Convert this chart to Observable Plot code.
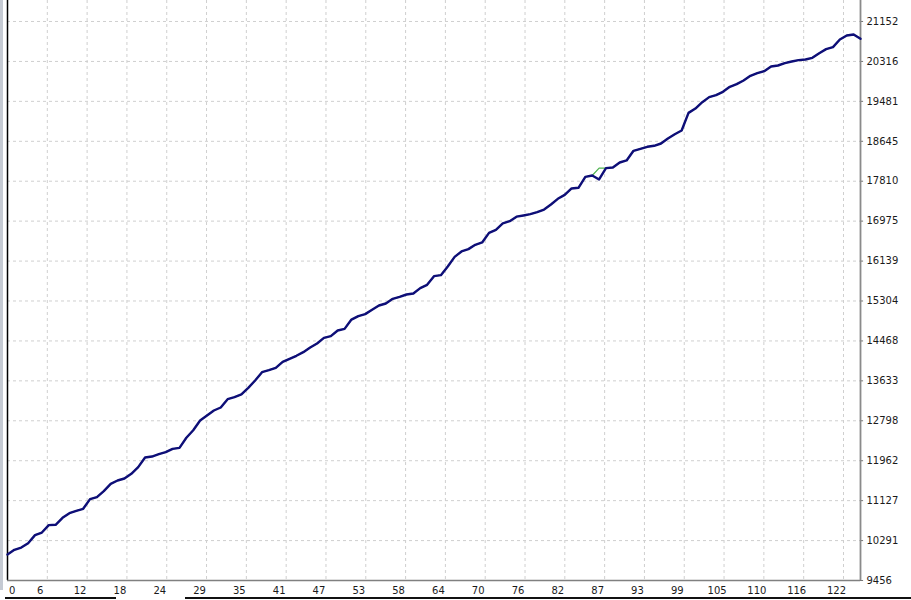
<!DOCTYPE html>
<html><head><meta charset="utf-8">
<script src="https://cdn.jsdelivr.net/npm/d3@7"></script>
<script src="https://cdn.jsdelivr.net/npm/@observablehq/plot@0.6"></script>
<style>
html,body{margin:0;padding:0;background:#fff;width:911px;height:600px;overflow:hidden;}
#wrap{position:relative;width:911px;height:600px;}
#chart svg{display:block;}
.lstrip{position:absolute;left:0;top:0;width:3px;height:590px;background:#c5cad3;}
.tab{position:absolute;height:2px;background:#111;top:597px;}
</style></head><body>
<div id="wrap"><div id="chart"></div><div class="lstrip"></div><div class="tab" style="left:5px;width:111px"></div><div class="tab" style="left:185px;width:726px"></div></div>
<script>
// Equity per trade (blue) and balance per trade (green)
const equity = [10000,10098,10146,10237,10405,10460,10614,10621,10767,10865,
  10914,10956,11158,11200,11325,11478,11548,11590,11688,11827,
  12029,12050,12099,12141,12211,12232,12442,12601,12804,12908,
  13013,13076,13250,13292,13348,13487,13641,13815,13857,13906,
  14031,14094,14157,14233,14331,14415,14533,14568,14687,14721,
  14915,14987,15029,15119,15210,15252,15349,15391,15440,15461,
  15573,15642,15823,15844,16026,16228,16340,16389,16479,16528,
  16730,16793,16926,16974,17068,17093,17121,17163,17218,17323,
  17442,17525,17658,17672,17902,17930,17846,18083,18097,18202,
  18244,18446,18488,18530,18551,18599,18704,18794,18871,19240,
  19330,19464,19569,19611,19680,19785,19841,19918,20015,20071,
  20113,20210,20231,20280,20315,20343,20357,20392,20489,20573,
  20615,20775,20860,20880,20789];
const balance = [10000,10098,10146,10237,10405,10460,10614,10621,10767,10865,
  10914,10956,11158,11200,11325,11478,11548,11590,11688,11827,
  12029,12050,12099,12141,12211,12232,12442,12601,12804,12908,
  13013,13076,13250,13292,13348,13487,13641,13815,13857,13906,
  14031,14094,14157,14233,14331,14415,14533,14568,14687,14721,
  14915,14987,15029,15119,15210,15252,15349,15391,15440,15461,
  15573,15642,15823,15844,16026,16228,16340,16389,16479,16528,
  16730,16793,16926,16974,17068,17093,17121,17163,17218,17323,
  17442,17525,17658,17672,17902,17930,18083,18083,18097,18202,
  18244,18446,18488,18530,18551,18599,18704,18794,18871,19240,
  19330,19464,19569,19611,19680,19785,19841,19918,20015,20071,
  20113,20210,20231,20280,20315,20343,20357,20392,20489,20573,
  20615,20775,20860,20880,20789];
const xTickLabels = [0,6,12,18,24,29,35,41,47,53,58,64,70,76,82,87,93,99,105,110,116,122];
const xTickStep = 5.787; // trades per grid cell
const yTickLabels = [9456,10291,11127,11962,12798,13633,14468,15304,16139,16975,17810,18645,19481,20316,21152];
const yTop = 21591;
const xMax = 124;

const eqData = equity.map((v,i)=>({n:i, v}));
const balData = balance.map((v,i)=>({n:i, v}));
const xGrid = xTickLabels.map((d,i)=>({label:d, pos:i*xTickStep}));

const gridStyle = {stroke:"#cfcfcf", strokeDasharray:"3,3", strokeWidth:1};
const chart = Plot.plot({
  width:911, height:600,
  marginLeft:7, marginRight:51, marginTop:0, marginBottom:20,
  x:{domain:[0,xMax], axis:null},
  y:{domain:[yTickLabels[0], yTop], axis:null},
  style:{background:"#fff", fontFamily:"DejaVu Sans, sans-serif"},
  marks:[
    Plot.ruleX(xGrid.slice(1), {x:"pos", ...gridStyle}),
    Plot.ruleY(yTickLabels.slice(1), {...gridStyle}),
    Plot.ruleY(yTickLabels, {y:d=>d, x1:xMax, x2:xMax+0.45, stroke:"#777"}),
    Plot.ruleX([0], {stroke:"#000", strokeWidth:1.5}),
    Plot.ruleY([yTickLabels[0]], {stroke:"#808080", strokeWidth:1.5}),
    Plot.ruleX([xMax], {stroke:"#8a8a8a", strokeWidth:1.8}),
    Plot.line(balData, {x:"n", y:"v", stroke:"#4fb34f", strokeWidth:1.2}),
    Plot.line(eqData, {x:"n", y:"v", stroke:"#0e0e78", strokeWidth:2.4, strokeLinejoin:"round"}),
    Plot.text(yTickLabels, {x:xMax, y:d=>d, text:d=>String(d), dx:6, textAnchor:"start", fontSize:10, fill:"#1a1a1a"}),
    Plot.text(xGrid.slice(0,1), {x:"pos", y:()=>yTickLabels[0], text:d=>String(d.label), dx:1.5, dy:10, textAnchor:"start", fontSize:10, fill:"#1a1a1a"}),
    Plot.text(xGrid.slice(1), {x:"pos", y:()=>yTickLabels[0], text:d=>String(d.label), dx:-7, dy:10, textAnchor:"middle", fontSize:10, fill:"#1a1a1a"})
  ]
});
document.getElementById("chart").appendChild(chart);
</script></body></html>
